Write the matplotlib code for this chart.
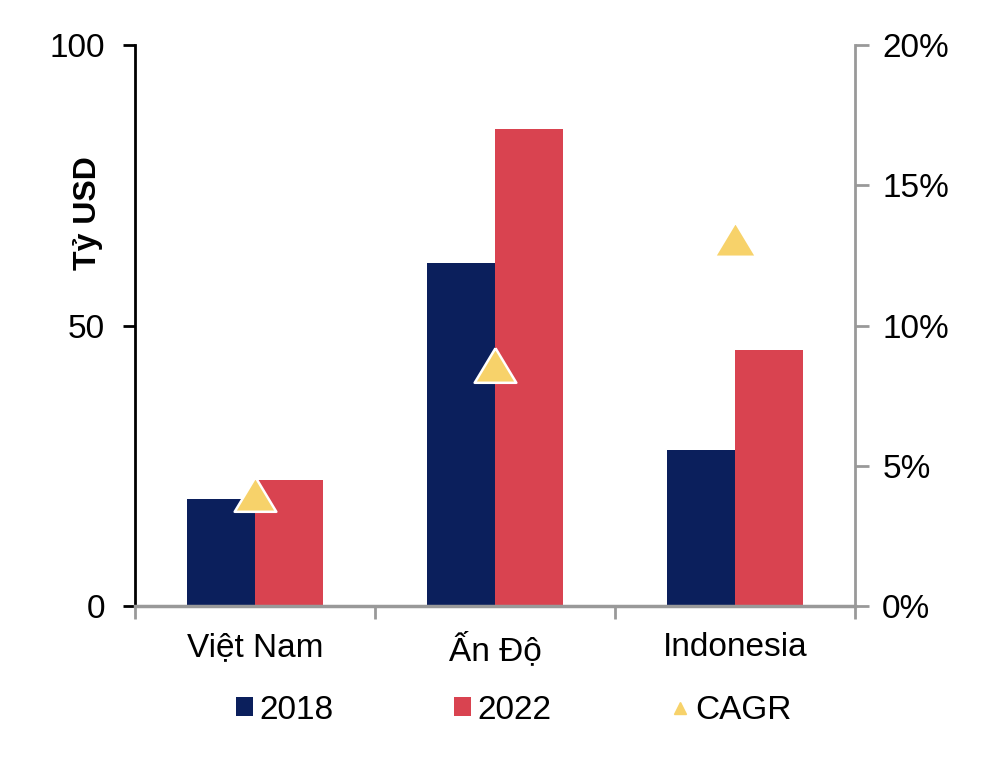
import numpy as np
import matplotlib.pyplot as plt
from matplotlib.patches import Patch
from matplotlib.lines import Line2D
from matplotlib.ticker import FuncFormatter

plt.rcParams['font.family'] = ['Liberation Sans', 'DejaVu Sans']

## data
countries = ['Việt Nam', 'Ấn Độ', 'Indonesia']
val_2018 = [19.0, 61.1, 27.8]
val_2022 = [22.4, 85.0, 45.6]
cagr = [4.0, 8.6, 13.1]

navy = '#0B1F5C'
red = '#D94350'
yellow = '#F7D26A'
gray = '#999999'

fig = plt.figure(figsize=(9.92, 7.78), dpi=100)
ax = fig.add_axes([0.136, 0.221, 0.726, 0.721])
ax2 = ax.twinx()

x = np.arange(len(countries))
w = 0.285
ax.bar(x - w/2, val_2018, width=w, color=navy, zorder=2)
ax.bar(x + w/2, val_2022, width=w, color=red, zorder=2)

tri = [(0, 0.83), (-1, -0.83), (1, -0.83), (0, 0.83)]
ax2.plot(x, cagr, linestyle='none', marker=tri, markersize=30,
         markerfacecolor=yellow, markeredgecolor='white', markeredgewidth=1.8, zorder=3)

ax.set_xlim(-0.5, 2.5)
ax.set_ylim(0, 100)
ax2.set_ylim(0, 20)
ax.set_yticks([0, 50, 100])
ax2.set_yticks([0, 5, 10, 15, 20])
ax2.yaxis.set_major_formatter(FuncFormatter(lambda v, p: f'{v:.0f}%'))

ax.set_xticks(x)
ax.set_xticklabels(countries)
ax.set_xticks([-0.5, 0.5, 1.5, 2.5], minor=True)
ax.tick_params(axis='x', which='major', length=0, pad=19, labelsize=24)
ax.tick_params(axis='x', which='minor', length=9, width=2, color=gray, direction='out')
ax.tick_params(axis='y', length=9, width=2, color='black', labelsize=24, pad=12.5)
ax2.tick_params(axis='y', length=10, width=2, color=gray, labelsize=24, pad=9.5)

ax.set_ylabel('Tỷ USD', fontsize=23, fontweight='bold')
ax.yaxis.set_label_coords(-0.045, 0.70)

for a in (ax, ax2):
    a.spines['top'].set_visible(False)
ax.spines['left'].set_color('black')
ax.spines['left'].set_linewidth(2)
ax.spines['right'].set_visible(False)
ax.spines['bottom'].set_color(gray)
ax.spines['bottom'].set_linewidth(2.5)
ax2.spines['left'].set_visible(False)
ax2.spines['bottom'].set_visible(False)
ax2.spines['right'].set_color(gray)
ax2.spines['right'].set_linewidth(2)

handles = [
    Patch(facecolor=navy, label='2018'),
    Patch(facecolor=red, label='2022'),
    Line2D([], [], linestyle='none', marker='^', markersize=8,
           markerfacecolor=yellow, markeredgecolor=yellow, label='CAGR'),
]
fig.legend(handles=handles, loc='center', bbox_to_anchor=(0.518, 0.087), ncol=3,
           frameon=False, fontsize=24, handlelength=0.5, handleheight=0.5,
           handletextpad=0.2, columnspacing=3.62)

fig.savefig('out.png', dpi=100)
